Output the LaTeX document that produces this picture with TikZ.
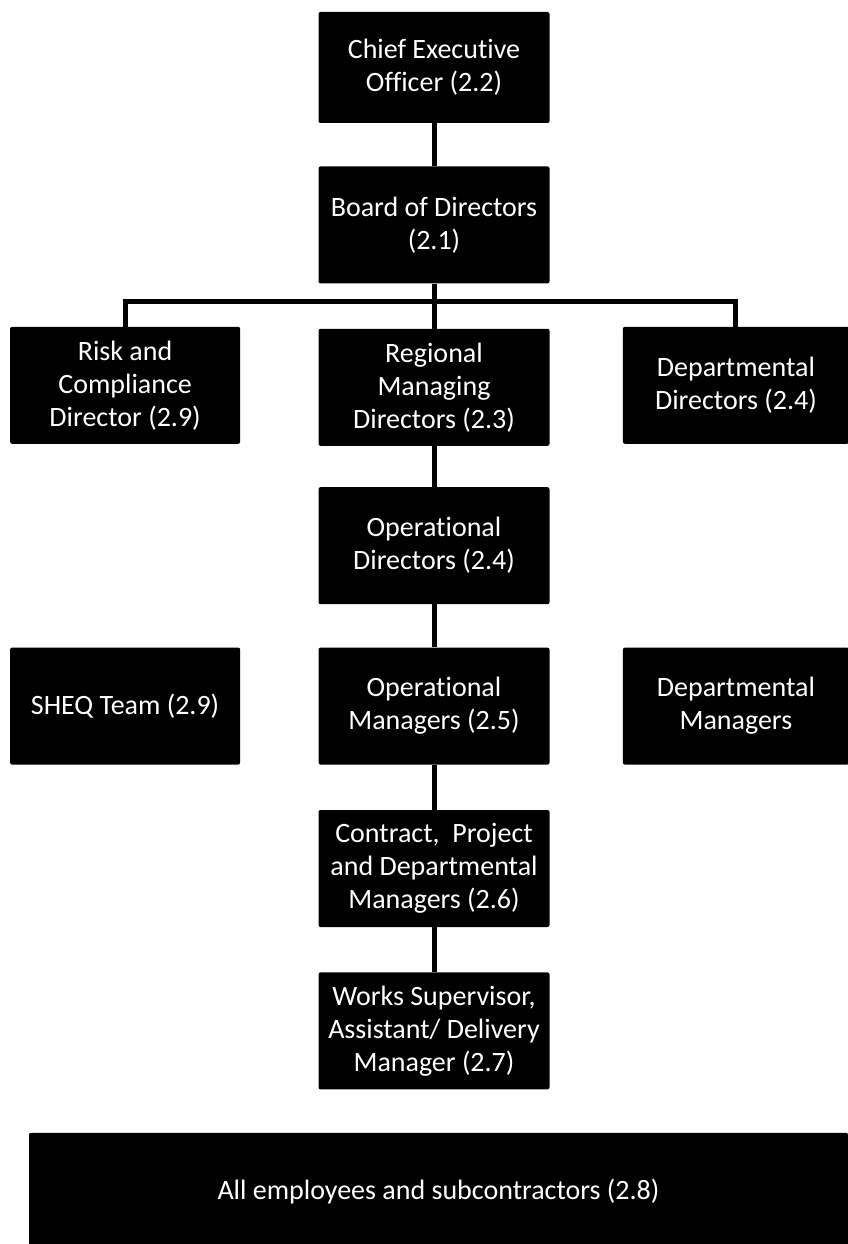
\documentclass[tikz,border=0pt]{standalone}
\usepackage{fontspec}
\setmainfont{Carlito}[Ligatures=NoCommon]
\usetikzlibrary{positioning}
\tikzstyle{box}=[rectangle,inner sep=2pt,fill=black,text=white,rounded corners=0.7mm,text centered,align=center,minimum width=231pt,minimum height=117pt,font=\fontsize{28}{33}\selectfont]
\tikzstyle{side}=[box,minimum width=230pt]
\tikzstyle{wide}=[box,minimum width=819pt]
\tikzstyle{link}=[line width=5pt]

\begin{document}
\begin{tikzpicture}[x=1pt,y=-1pt,node distance=43pt]
\useasboundingbox (0,0) rectangle (848,1244);

\node (ceo) [box,minimum height=111pt] at (434,67.5) {Chief Executive\\Officer (2.2)};
\node (board) [box,below=of ceo] {Board of Directors\\(2.1)};
\node (reg) [box,below=45pt of board] {Regional\\Managing\\Directors (2.3)};
\node (risk) [side,left=78pt of reg,yshift=2pt] {Risk and\\Compliance\\Director (2.9)};
\node (dd) [side,right=73pt of reg,yshift=2pt,minimum width=226pt] {Departmental\\Directors (2.4)};
\node (opdir) [box,below=41pt of reg] {Operational\\Directors (2.4)};
\node (opmgr) [box,below=of opdir] {Operational\\Managers (2.5)};
\node (sheq) [side,left=78pt of opmgr] {SHEQ Team (2.9)};
\node (dm) [side,right=73pt of opmgr,minimum width=226pt] {Departmental\\Managers};
\node (cpm) [box,below=45pt of opmgr] {Contract,~ Project\\and Departmental\\Managers (2.6)};
\node (works) [box,below=45pt of cpm] {Works Supervisor,\\Assistant/ Delivery\\Manager (2.7)};
\node (all) [wide,below=of works,xshift=4.5pt] {All employees and subcontractors (2.8)};

\coordinate (bus) at ([yshift=-18pt]board.south);
\draw [link] (ceo) -- (board);
\draw [link] (board) -- (reg);
\draw [link] (risk.north) |- (bus) -| (dd.north);
\draw [link] (reg) -- (opdir);
\draw [link] (opdir) -- (opmgr);
\draw [link] (opmgr) -- (cpm);
\draw [link] (cpm) -- (works);

\end{tikzpicture}
\end{document}
